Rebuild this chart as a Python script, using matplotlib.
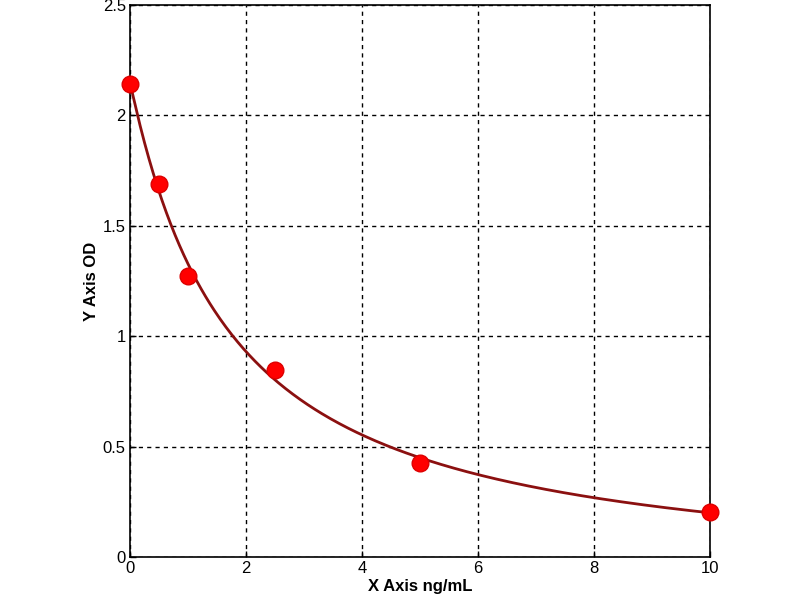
import matplotlib
matplotlib.use("Agg")
import matplotlib.pyplot as plt
import numpy as np

# standard points
conc = [0.0, 0.5, 1.0, 2.5, 5.0, 10.0]
od = [2.142, 1.689, 1.273, 0.847, 0.426, 0.204]

x_ticks = [0, 2, 4, 6, 8, 10]
y_ticks = [0, 0.5, 1, 1.5, 2, 2.5]
y_tick_labels = ["0", "0.5", "1", "1.5", "2", "2.5"]


def four_pl(x, p):
    a, b, c, d = p
    return d + (a - d) / (1.0 + (np.maximum(x, 0) / abs(c)) ** b)


def sse(p, x, y):
    if p[1] <= 0 or p[2] == 0:
        return 1e9
    return float(np.sum((four_pl(x, p) - y) ** 2))


def nelder_mead(f, x0, iters=4000):
    n = len(x0)
    pts = [np.array(x0, float)]
    for i in range(n):
        q = np.array(x0, float)
        q[i] = q[i] * 1.1 if q[i] != 0 else 0.05
        pts.append(q)
    for _ in range(iters):
        pts.sort(key=f)
        cen = np.mean(pts[:-1], axis=0)
        worst = pts[-1]
        r = cen + (cen - worst)
        if f(r) < f(pts[0]):
            e = cen + 2 * (cen - worst)
            pts[-1] = e if f(e) < f(r) else r
        elif f(r) < f(pts[-2]):
            pts[-1] = r
        else:
            cc = cen + 0.5 * (worst - cen)
            if f(cc) < f(worst):
                pts[-1] = cc
            else:
                pts = [pts[0] + 0.5 * (p - pts[0]) for p in pts]
    pts.sort(key=f)
    return pts[0]


x = np.array(conc)
y = np.array(od)
params = nelder_mead(lambda p: sse(p, x, y), [2.14, 1.0, 1.5, 0.0])
xs = np.linspace(0, 10, 400)
ys = four_pl(xs, params)

fig = plt.figure(figsize=(8, 6), dpi=100)
ax = fig.add_axes([0.1625, 0.0717, 0.725, 0.92])

ax.plot(xs, ys, color="#8b1010", linewidth=2, zorder=3)
ax.plot(conc, od, linestyle="none", marker="o", markersize=12,
        markerfacecolor="#ff0000", markeredgecolor="#dd0000",
        markeredgewidth=1, zorder=4, clip_on=False)

ax.set_xlim(0, 10)
ax.set_ylim(0, 2.5)
ax.set_xticks(x_ticks)
ax.set_yticks(y_ticks)
ax.set_yticklabels(y_tick_labels)

font = ["Liberation Sans", "DejaVu Sans"]
for lab in ax.get_xticklabels() + ax.get_yticklabels():
    lab.set_fontfamily(font)
    lab.set_fontsize(12)

ax.tick_params(direction="in", length=4, width=1, pad=3)
ax.grid(True, color="black", linestyle=(0, (3, 3)), linewidth=1)
ax.set_axisbelow(True)
for s in ax.spines.values():
    s.set_linewidth(1.2)

ax.set_xlabel("X Axis ng/mL", fontsize=12, fontweight="bold", family=font, labelpad=2)
ax.set_ylabel("Y Axis OD", fontsize=12, fontweight="bold", family=font, labelpad=3)

fig.savefig("out.png", dpi=100)
